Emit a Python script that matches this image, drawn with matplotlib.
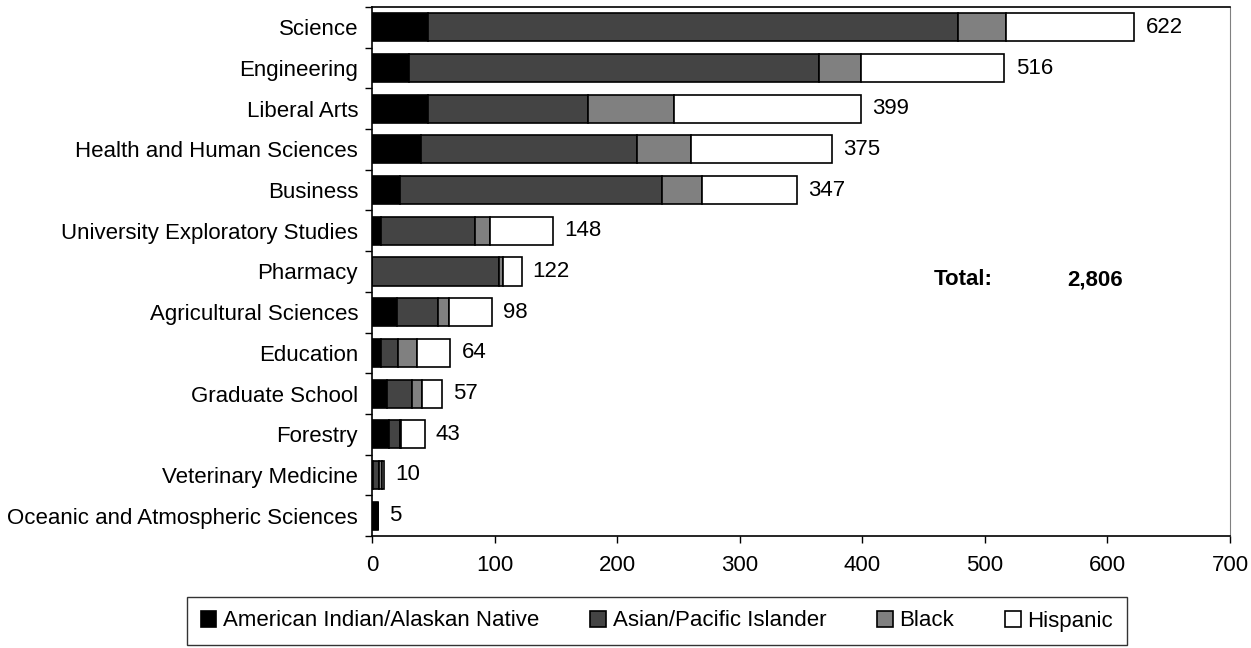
import numpy as np
import matplotlib
matplotlib.use('Agg')
import matplotlib.pyplot as plt
from matplotlib.ticker import FixedLocator

plt.rcParams['font.family'] = ['Liberation Sans', 'DejaVu Sans']

colleges = ['Science', 'Engineering', 'Liberal Arts', 'Health and Human Sciences',
            'Business', 'University Exploratory Studies', 'Pharmacy',
            'Agricultural Sciences', 'Education', 'Graduate School', 'Forestry',
            'Veterinary Medicine', 'Oceanic and Atmospheric Sciences']
am_indian = [46, 30, 46, 40, 23, 7, 0, 20, 7, 12, 14, 1, 5]
asian     = [432, 335, 130, 176, 214, 77, 104, 34, 14, 21, 9, 5, 0]
black     = [39, 34, 70, 44, 32, 12, 3, 9, 16, 8, 1, 2, 0]
hispanic  = [105, 117, 153, 115, 78, 52, 15, 35, 27, 16, 19, 2, 0]
series_names = ['American Indian/Alaskan Native', 'Asian/Pacific Islander', 'Black', 'Hispanic']
series_colors = ['#000000', '#444444', '#808080', '#ffffff']
grand_total = '2,806'

fs = 16
fig = plt.figure(figsize=(12.51, 6.48), dpi=100)
ax = fig.add_axes([372/1251, 1-536/648, (1230-372)/1251, (536-7)/648])

y = np.arange(len(colleges))[::-1]
left = np.zeros(len(colleges))
for vals, name, col in zip([am_indian, asian, black, hispanic], series_names, series_colors):
    ax.barh(y, vals, left=left, height=0.69, color=col, edgecolor='black',
            linewidth=1.2, label=name)
    left += np.array(vals)

for yi, tot in zip(y, left):
    ax.annotate('%d' % tot, (tot, yi), xytext=(8, 0), textcoords='offset points',
                va='center', ha='left', fontsize=fs)

ax.set_xlim(0, 700)
ax.set_ylim(-0.5, len(colleges) - 0.5)
ax.set_xticks(range(0, 701, 100))
ax.set_yticks(y)
ax.set_yticklabels(colleges, fontsize=fs)
ax.tick_params(axis='y', which='major', length=0, pad=10)
ax.yaxis.set_minor_locator(FixedLocator(np.arange(-0.5, len(colleges), 1.0)))
ax.tick_params(axis='y', which='minor', length=5, width=1)
ax.tick_params(axis='x', which='major', length=5, width=1, labelsize=fs, pad=9)
for s in ['left', 'bottom', 'top']:
    ax.spines[s].set_color('black')
    ax.spines[s].set_linewidth(1.2)
ax.spines['right'].set_color('#808080')

fig.text(934/1251, 1-280/648, 'Total:', fontsize=fs, fontweight='bold', va='center', ha='left')
fig.text(1123/1251, 1-280/648, grand_total, fontsize=fs, fontweight='bold', va='center', ha='right')

leg = fig.legend(loc='center', bbox_to_anchor=(657/1251, 1-621/648), ncol=4,
                 fontsize=fs, frameon=True, fancybox=False, edgecolor='black',
                 handlelength=0.7, handleheight=0.7, handletextpad=0.3, columnspacing=2.3,
                 borderpad=0.6)
leg.get_frame().set_linewidth(1.0)

fig.savefig('out.png', dpi=100)
